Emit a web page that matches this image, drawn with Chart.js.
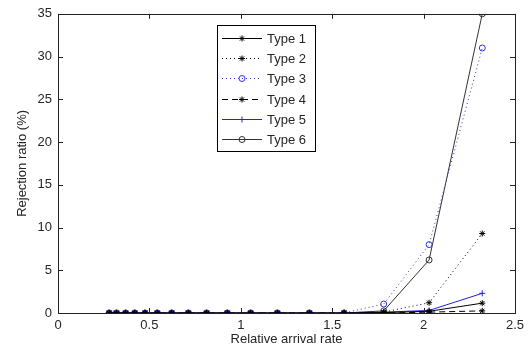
<!DOCTYPE html>
<html>
<head>
<meta charset="utf-8">
<script src="https://cdn.jsdelivr.net/npm/chart.js@4/dist/chart.umd.min.js"></script>
<style>
  html, body { margin: 0; padding: 0; background: #fff; }
  #wrap { width: 531px; height: 353px; }
</style>
</head>
<body>
<div id="wrap"><canvas id="chart" width="531" height="353"></canvas></div>
<script>
// relative arrival rate (x values shared by every series)
const rates = [0.28, 0.32, 0.37, 0.42, 0.476, 0.543, 0.622, 0.713, 0.813, 0.926, 1.054, 1.2, 1.375, 1.565, 1.782, 2.03, 2.321];

// rejection ratio (%)
const type1 = [0, 0, 0, 0, 0, 0, 0, 0, 0, 0, 0, 0, 0, 0, 0.05, 0.2, 1.15];
const type2 = [0, 0, 0, 0, 0, 0, 0, 0, 0, 0, 0, 0, 0, 0, 0.1, 1.2, 9.3];
const type3 = [0, 0, 0, 0, 0, 0, 0, 0, 0, 0, 0, 0, 0, 0, 1.05, 8.0, 31.0];
const type4 = [0, 0, 0, 0, 0, 0, 0, 0, 0, 0, 0, 0, 0, 0, 0, 0.1, 0.25];
const type5 = [0, 0, 0, 0, 0, 0, 0, 0, 0, 0, 0, 0, 0, 0, 0.1, 0.3, 2.3];
const type6 = [0, 0, 0, 0, 0, 0, 0, 0, 0, 0, 0, 0, 0, 0, 0.25, 6.2, 35.0];

const seriesNames = ['Type 1', 'Type 2', 'Type 3', 'Type 4', 'Type 5', 'Type 6'];
const xTicks = [0, 0.5, 1, 1.5, 2, 2.5];
const yTicks = [0, 5, 10, 15, 20, 25, 30, 35];

const FONT = '"Liberation Sans", Arial, sans-serif';
const TEXT = '#262626';

function pts(ys) {
  return rates.map((x, i) => ({ x: x, y: ys[i] }));
}

function series(label, ys, color, dash, marker) {
  return {
    label: label,
    data: pts(ys),
    borderColor: color,
    borderWidth: 1,
    borderDash: dash,
    pointStyle: marker,
    pointRadius: 3,
    pointBorderColor: color,
    pointBackgroundColor: 'rgba(0,0,0,0)',
    pointBorderWidth: 1,
    fill: false,
    tension: 0
  };
}

const datasets = [
  series(seriesNames[0], type1, '#000', [], 'star'),
  series(seriesNames[1], type2, '#000', [1, 3], 'star'),
  series(seriesNames[2], type3, '#3333dd', [1, 3], 'circle'),
  series(seriesNames[3], type4, '#000', [6, 4], 'star'),
  series(seriesNames[4], type5, '#2222dd', [], 'cross'),
  series(seriesNames[5], type6, '#333', [], 'circle')
];

// matlab style frame, inward ticks and boxed legend
const matlabLook = {
  id: 'matlabLook',
  afterDraw(chart) {
    const ctx = chart.ctx;
    const a = chart.chartArea;
    const xs = chart.scales.x, ys = chart.scales.y;
    ctx.save();
    ctx.strokeStyle = '#222';
    ctx.lineWidth = 1;
    ctx.setLineDash([]);
    ctx.strokeRect(Math.round(a.left) + 0.5, Math.round(a.top) + 0.5, Math.round(a.right - a.left), Math.round(a.bottom - a.top));
    ctx.beginPath();
    xTicks.forEach(v => {
      const px = Math.round(xs.getPixelForValue(v)) + 0.5;
      ctx.moveTo(px, a.bottom); ctx.lineTo(px, a.bottom - 5);
      ctx.moveTo(px, a.top); ctx.lineTo(px, a.top + 5);
    });
    yTicks.forEach(v => {
      const py = Math.round(ys.getPixelForValue(v)) + 0.5;
      ctx.moveTo(a.left, py); ctx.lineTo(a.left + 5, py);
      ctx.moveTo(a.right, py); ctx.lineTo(a.right - 5, py);
    });
    ctx.stroke();

    // legend
    const bx = 217.5, by = 25.5, bw = 98, bh = 126;
    ctx.fillStyle = '#fff';
    ctx.fillRect(bx, by, bw, bh);
    ctx.strokeStyle = '#000';
    ctx.strokeRect(bx, by, bw, bh);
    ctx.font = '13px ' + FONT;
    ctx.textBaseline = 'middle';
    chart.data.datasets.forEach((ds, i) => {
      const y = Math.round(by + 12.5 + i * 20.2) + 0.5;
      ctx.strokeStyle = ds.borderColor;
      ctx.lineWidth = 1;
      ctx.setLineDash(ds.borderDash);
      ctx.beginPath();
      ctx.moveTo(222, y); ctx.lineTo(262, y);
      ctx.stroke();
      ctx.setLineDash([]);
      ctx.fillStyle = 'rgba(0,0,0,0)';
      Chart.helpers.drawPoint(ctx, {
        pointStyle: ds.pointStyle, radius: 3, rotation: 0, borderWidth: 1
      }, 242, y);
      ctx.fillStyle = TEXT;
      ctx.fillText(ds.label, 267, y + 1);
    });
    ctx.restore();
  }
};

new Chart(document.getElementById('chart'), {
  type: 'line',
  data: { datasets: datasets },
  options: {
    responsive: false,
    animation: false,
    layout: { padding: { left: 0, right: 16, top: 13, bottom: 0 } },
    plugins: { legend: { display: false }, tooltip: { enabled: false } },
    scales: {
      x: {
        type: 'linear',
        min: 0, max: 2.5,
        afterFit: s => { s.height = 40; },
        afterBuildTicks: s => { s.ticks = xTicks.map(v => ({ value: v })); },
        grid: { display: false, drawTicks: false },
        border: { display: false },
        ticks: { color: TEXT, font: { family: FONT, size: 13 }, padding: 5, maxRotation: 0, callback: v => String(v) },
        title: { display: true, text: 'Relative arrival rate', color: TEXT, font: { family: FONT, size: 13 }, padding: { top: 0, bottom: 6 } }
      },
      y: {
        min: 0, max: 35,
        afterFit: s => { s.width = 58; },
        afterBuildTicks: s => { s.ticks = yTicks.map(v => ({ value: v })); },
        grid: { display: false, drawTicks: false },
        border: { display: false },
        ticks: { color: TEXT, font: { family: FONT, size: 13 }, padding: 6, callback: v => String(v) },
        title: { display: true, text: 'Rejection ratio (%)', color: TEXT, font: { family: FONT, size: 13 }, padding: { top: 15, bottom: 0 } }
      }
    }
  },
  plugins: [matlabLook]
});
</script>
</body>
</html>
